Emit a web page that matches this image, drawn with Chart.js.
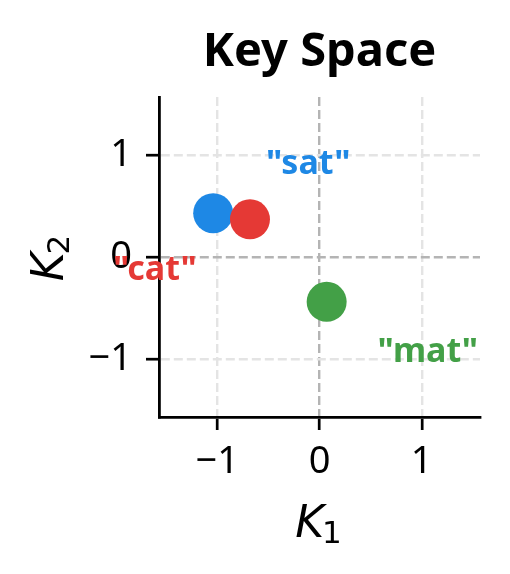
<!DOCTYPE html>
<html>
<head>
<meta charset="utf-8">
<script src="https://cdn.jsdelivr.net/npm/chart.js@4.4.1/dist/chart.umd.min.js"></script>
<style>
  html, body { margin: 0; padding: 0; background: #fff; }
  canvas { display: block; }
</style>
</head>
<body>
<canvas id="keySpace" width="510" height="574"></canvas>
<script>
// tokens in key space
const tokens = ["sat", "cat", "mat"];
const keyX = [-1.04, -0.68, 0.07];
const keyY = [0.43, 0.37, -0.44];
const colors = ["#1E88E5", "#E53935", "#43A047"];
// where the word labels sit (data coords)
const labelX = [-0.11, -1.61, 1.06];
const labelY = [0.91, -0.13, -0.94];
const tickValues = [-1, 0, 1];
const axisMin = -1.57, axisMax = 1.57;

const fmtTick = v => (v < 0 ? "\u2212" + Math.abs(v) : String(v));

const gridColor = ctx => (ctx.tick && ctx.tick.value === 0 ? "#b4b4b4" : "#e4e4e4");

function axisOpts(fixed, pad) {
  return {
    type: "linear",
    min: axisMin,
    max: axisMax,
    afterBuildTicks: s => { s.ticks = tickValues.map(v => ({ value: v })); },
    afterFit: fixed,
    ticks: {
      color: "#000",
      font: { family: "Noto Sans", size: 38 },
      padding: pad,
      callback: v => fmtTick(v)
    },
    grid: {
      color: gridColor,
      lineWidth: 2.4,
      tickColor: "#000",
      tickLength: 13,
      tickWidth: 2.7
    },
    border: { display: true, color: "#000", width: 2.8, dash: [9, 4] }
  };
}

const textPlugin = {
  id: "textPlugin",
  afterDraw(chart) {
    const { ctx, chartArea, scales } = chart;
    const cx = (chartArea.left + chartArea.right) / 2;
    const cy = (chartArea.top + chartArea.bottom) / 2;
    ctx.save();
    ctx.fillStyle = "#000";
    ctx.textAlign = "center";
    ctx.textBaseline = "alphabetic";
    ctx.font = "bold 47px 'Noto Sans'";
    ctx.fillText("Key Space", cx, 66);

    // K_1
    ctx.font = "italic 44px 'DejaVu Sans'";
    const kw = ctx.measureText("K").width;
    ctx.font = "31px 'DejaVu Sans'";
    const sw = ctx.measureText("1").width;
    const x0 = cx - (kw + sw) / 2;
    ctx.textAlign = "left";
    ctx.font = "italic 44px 'DejaVu Sans'";
    ctx.fillText("K", x0, 537);
    ctx.font = "31px 'DejaVu Sans'";
    ctx.fillText("1", x0 + kw - 2, 543);

    // K_2
    ctx.translate(63, cy);
    ctx.rotate(-Math.PI / 2);
    ctx.font = "italic 44px 'DejaVu Sans'";
    ctx.fillText("K", -(kw + sw) / 2, 0);
    ctx.font = "31px 'DejaVu Sans'";
    ctx.fillText("2", -(kw + sw) / 2 + kw - 2, 6);
    ctx.restore();

    // word labels
    ctx.save();
    ctx.font = "bold 34px 'Noto Sans'";
    ctx.textAlign = "center";
    ctx.textBaseline = "middle";
    tokens.forEach((t, i) => {
      ctx.fillStyle = colors[i];
      ctx.fillText('"' + t + '"', scales.x.getPixelForValue(labelX[i]), scales.y.getPixelForValue(labelY[i]));
    });
    ctx.restore();
  }
};

new Chart(document.getElementById("keySpace"), {
  type: "scatter",
  data: {
    labels: tokens,
    datasets: [{
      data: keyX.map((x, i) => ({ x, y: keyY[i] })),
      backgroundColor: colors,
      borderWidth: 0,
      pointRadius: 20,
      pointHoverRadius: 20
    }]
  },
  options: {
    responsive: false,
    devicePixelRatio: 1,
    animation: false,
    layout: { autoPadding: false, padding: { left: 75, right: 30, top: 97, bottom: 97 } },
    plugins: { legend: { display: false }, tooltip: { enabled: false }, title: { display: false } },
    scales: {
      x: axisOpts(s => { s.height = 60; }, 9),
      y: axisOpts(s => { s.width = 84; }, 14)
    }
  },
  plugins: [textPlugin]
});
</script>
</body>
</html>
